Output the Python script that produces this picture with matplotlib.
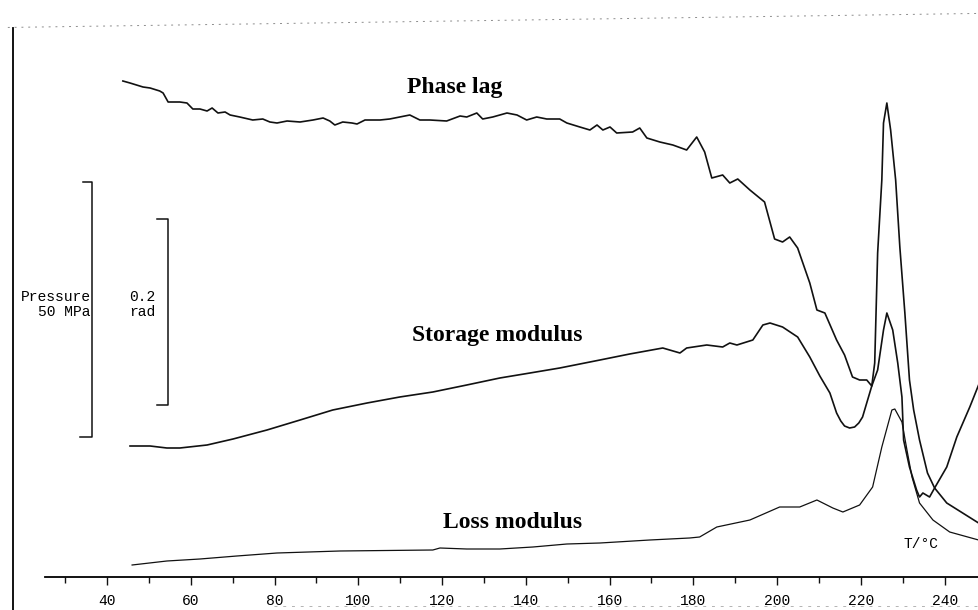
# DMA trace: phase lag, storage and loss modulus vs temperature
from matplotlib.backends.backend_agg import FigureCanvasAgg as FigureCanvas
from matplotlib.figure import Figure

# temperature in degC, signal in arbitrary chart units (0 = axis line)
phase_T = [43.8, 45.5, 48.6, 50.3, 52.6, 53.4, 54.6, 57.4, 59.1, 60.5, 62.2, 63.9,
           65.1, 66.5, 68.2, 69.4, 71.7, 74.8, 77.2, 78.9, 80.6, 83.0, 86.1, 89.2,
           91.6, 93.2, 94.4, 96.3, 98.5, 99.7, 101.6, 105.2, 107.5, 112.3, 114.7,
           117.1, 121.1, 124.3, 125.9, 128.3, 129.7, 132.1, 135.5, 137.9, 140.2,
           142.6, 145.0, 148.1, 149.8, 152.9, 155.3, 157.0, 158.4, 160.1, 161.7,
           165.5, 167.2, 168.9, 172.0, 175.1, 178.4, 180.8, 182.7, 184.4, 187.0,
           188.7, 190.6, 193.5, 197.0, 199.4, 201.3, 203.0, 204.9, 207.8, 209.5,
           211.4, 214.2, 216.1, 218.0, 219.7, 221.4, 222.6, 223.3, 224.0, 225.0,
           225.4, 226.2, 227.1, 228.3, 229.3, 230.5, 231.6, 232.6, 234.0, 235.9,
           237.6, 240.5, 244.3, 248.1]
phase_v = [496, 494, 490, 489, 486, 484, 475, 475, 474, 468, 468, 466,
           469, 464, 465, 462, 460, 457, 458, 455, 454, 456, 455, 457,
           459, 456, 452, 455, 454, 453, 457, 457, 458, 462, 457,
           457, 456, 461, 460, 464, 458, 460, 464, 462, 457,
           460, 458, 458, 454, 450, 447, 452, 447, 450, 444,
           445, 449, 439, 435, 432, 427, 440, 425, 399, 402,
           394, 398, 387, 375, 338, 335, 340, 329, 294, 267,
           264, 237, 222, 200, 197, 197, 191, 214, 324, 397,
           454, 474, 447, 397, 330, 264, 197, 167, 137, 104,
           89, 74, 64, 54]

storage_T = [45.5, 50.3, 54.3, 57.4, 63.9, 70.1, 78.2, 86.1, 93.9, 102.1, 109.9,
             117.8, 125.9, 133.8, 141.0, 148.1, 157.7, 164.8, 172.7, 176.8, 178.4,
             183.2, 187.0, 188.7, 190.4, 194.2, 196.6, 198.3, 201.3, 204.9, 207.8,
             210.2, 212.6, 214.2, 215.2, 216.1, 217.3, 218.5, 219.5, 220.4, 222.6,
             224.0, 225.4, 226.2, 227.6, 228.8, 229.8, 230.2, 231.6, 233.3, 234.0,
             234.8, 236.4, 237.6, 240.5, 242.9, 246.0, 248.1]
storage_v = [131, 131, 129, 129, 132, 138, 147, 157, 167, 174, 180,
             185, 192, 199, 204, 209, 217, 223, 229, 224, 229,
             232, 230, 234, 232, 237, 252, 254, 250, 240, 220,
             201, 184, 164, 156, 151, 149, 150, 154, 160, 191,
             207, 247, 264, 247, 214, 180, 137, 110, 87, 80,
             84, 80, 89, 110, 140, 170, 192]

loss_T = [46.0, 54.3, 62.2, 71.0, 80.6, 95.6, 117.8, 119.5, 125.9, 133.8, 141.7,
          149.8, 157.7, 169.6, 179.1, 181.5, 185.6, 193.5, 200.6, 205.4, 209.5,
          213.3, 215.7, 219.7, 222.8, 225.0, 227.4, 228.1, 229.8, 231.0, 232.2,
          234.0, 237.2, 241.2, 248.1]
loss_v = [12, 16, 18, 21, 24, 26, 27, 29, 28, 28, 30,
          33, 34, 37, 39, 40, 50, 57, 70, 70, 77,
          69, 65, 72, 90, 130, 167, 168, 155, 127, 100,
          74, 57, 45, 37]

major_ticks = [40, 60, 80, 100, 120, 140, 160, 180, 200, 220, 240]
minor_ticks = [30, 50, 70, 90, 110, 130, 150, 170, 190, 210, 230]

mono = 'Liberation Mono'
serif = 'Liberation Serif'
ink = '#111111'

fig = Figure(figsize=(9.79, 6.10), dpi=100)
canvas = FigureCanvas(fig)
ax = fig.add_axes([0, 0, 1, 1])
ax.set_xlim(14.46, 248.2)
ax.set_ylim(-33, 577)

ax.plot(phase_T, phase_v, color=ink, lw=1.2)
ax.plot(storage_T, storage_v, color=ink, lw=1.2)
ax.plot(loss_T, loss_v, color=ink, lw=0.9)

# axis line with ticks
for side in ['top', 'right']:
    ax.spines[side].set_visible(False)
ax.spines['bottom'].set_position(('data', 0))
ax.spines['bottom'].set_bounds(25.2, 248.2)
ax.spines['bottom'].set_linewidth(1.3)
ax.spines['left'].set_position(('data', 17.6))
ax.spines['left'].set_bounds(-33, 549)
ax.spines['left'].set_linewidth(1.3)
ax.set_yticks([])
ax.set_xticks(major_ticks)
ax.set_xticks(minor_ticks, minor=True)
ax.tick_params(axis='x', which='major', direction='out', length=6, width=1, pad=6,
               labelsize=10.5, color=ink)
ax.tick_params(axis='x', which='minor', direction='out', length=4.5, width=1, color=ink)
for lab in ax.get_xticklabels():
    lab.set_fontfamily(mono)

# scan edges
ax.plot([0.008, 1.0], [0.955, 0.978], transform=ax.transAxes, color='0.55',
        lw=0.7, dashes=(2, 5))
ax.plot([0.28, 1.0], [0.006, 0.006], transform=ax.transAxes, color='0.7',
        lw=0.7, dashes=(3, 6))

# scale bars
ax.plot([0.085, 0.094, 0.094, 0.082], [0.7016, 0.7016, 0.2836, 0.2836],
        transform=ax.transAxes, color=ink, lw=1.1)
ax.plot([0.1604, 0.1716, 0.1716, 0.1604], [0.641, 0.641, 0.336, 0.336],
        transform=ax.transAxes, color=ink, lw=1.1)
ax.text(0.0925, 0.513, 'Pressure', transform=ax.transAxes, ha='right', va='center',
        fontfamily=mono, fontsize=10.5)
ax.text(0.0925, 0.4885, '50 MPa', transform=ax.transAxes, ha='right', va='center',
        fontfamily=mono, fontsize=10.5)
ax.text(0.145, 0.513, '0.2', transform=ax.transAxes, ha='center', va='center',
        fontfamily=mono, fontsize=10.5)
ax.text(0.145, 0.4885, 'rad', transform=ax.transAxes, ha='center', va='center',
        fontfamily=mono, fontsize=10.5)

# curve labels
ax.text(123.1, 490, 'Phase lag', ha='center', va='center', fontfamily=serif,
        fontweight='bold', fontsize=17)
ax.text(133.2, 242, 'Storage modulus', ha='center', va='center', fontfamily=serif,
        fontweight='bold', fontsize=17)
ax.text(136.9, 54, 'Loss modulus', ha='center', va='center', fontfamily=serif,
        fontweight='bold', fontsize=17)
ax.text(234.3, 33, 'T/°C', ha='center', va='center', fontfamily=mono, fontsize=10.5)

fig.savefig('out.png', dpi=100)
